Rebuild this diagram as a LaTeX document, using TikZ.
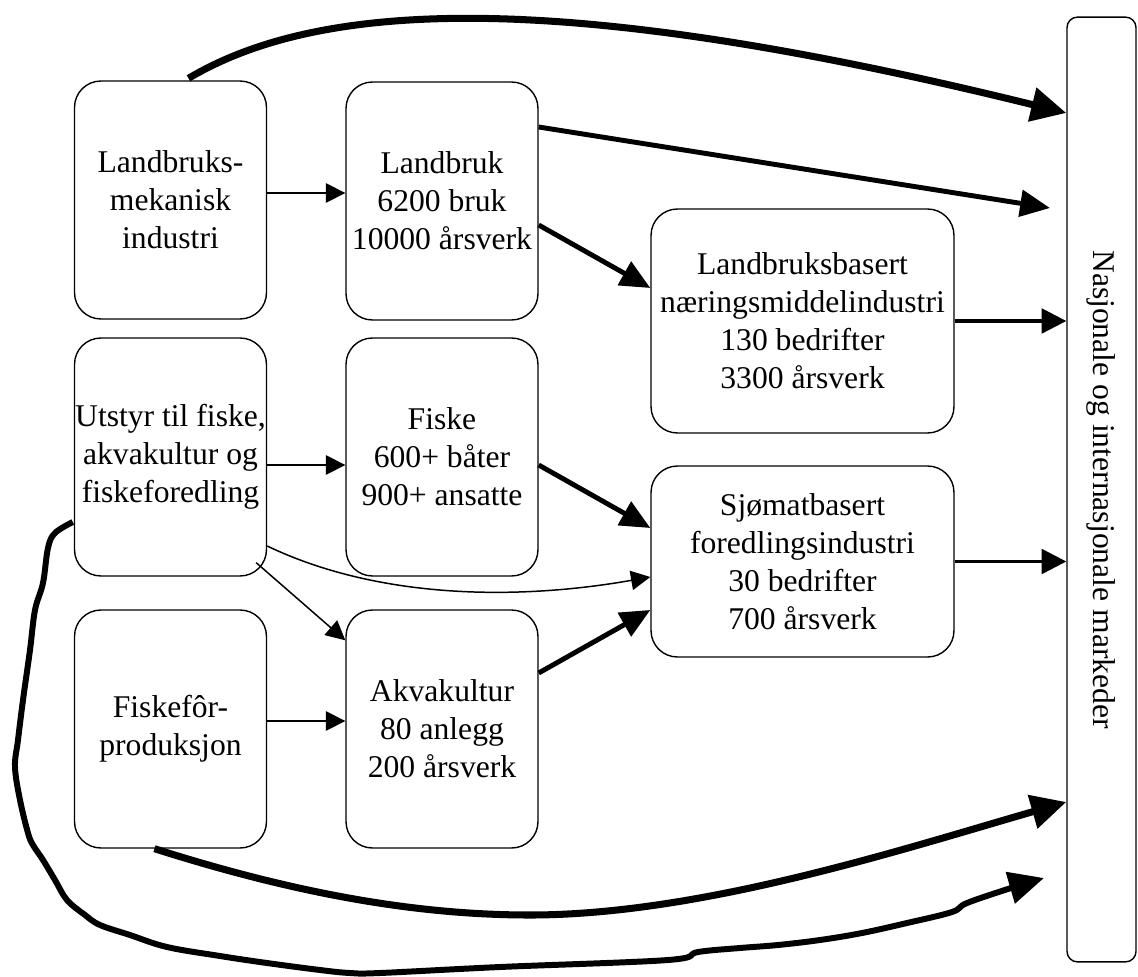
\documentclass[tikz,border=0pt]{standalone}
\usepackage{fontspec}
\setmainfont{Liberation Serif}
\usepackage{graphicx}
\usetikzlibrary{calc, arrows.meta}

\begin{document}
\begin{tikzpicture}[
  x=0.02cm, y=-0.02cm,
  box/.style={draw, line width=0.8pt, rounded corners=15pt,
              minimum width=3.84cm, minimum height=4.76cm, inner sep=0pt,
              align=center, font=\fontsize{18}{21.6}\selectfont},
  widebox/.style={box, minimum width=6.06cm},
  market/.style={box, rounded corners=6pt, minimum width=1.38cm,
                 minimum height=18.9cm},
  link/.style={line width=0.85pt, -{Triangle[length=11pt, width=11pt]}},
  export/.style={line width=1.8pt, -{Triangle[length=14pt, width=14pt]}},
  strong/.style={line width=2.8pt, -{Triangle[length=17pt, width=15pt]}},
  sweep/.style={line width=4pt, -{Triangle[length=20pt, width=19pt]}},
  scribble/.style={line width=3.4pt, line join=round,
                   -{Triangle[length=20pt, width=18pt]}},
]
\useasboundingbox (0,0) rectangle (1138,976);

\node[box] (mek) at (170.5,200) {Landbruks-\\mekanisk\\industri};
\node[box] (landbruk) at (442,201) {Landbruk\\6200 bruk\\10000 årsverk};
\node[box] (utstyr) at (170.5,457) {Utstyr til fiske,\\akvakultur og\\fiskeforedling};
\node[box] (fiske) at (442,457) {Fiske\\600+ båter\\900+ ansatte};
\node[box] (fiskefor) at (170.5,729) {Fiskefôr-\\produksjon};
\node[box] (akva) at (442,729) {Akvakultur\\80 anlegg\\200 årsverk};
\node[widebox, minimum height=4.48cm] (naering) at (802.5,321)
  {Landbruksbasert\\næringsmiddelindustri\\130 bedrifter\\3300 årsverk};
\node[widebox, minimum height=3.82cm] (sjomat) at (802.5,561.5)
  {Sjømatbasert\\foredlingsindustri\\30 bedrifter\\700 årsverk};
\node[market] (marked) at (1101.5,489.5)
  {\rotatebox{-90}{Nasjonale og internasjonale markeder}};

% inputs between the columns
\draw[link] ($(mek.east)+(0,-7)$) -- ($(landbruk.west)+(0,-8)$);
\draw[link] ($(utstyr.east)+(0,8)$) -- ($(fiske.west)+(0,8)$);
\draw[link] ($(fiskefor.east)+(0,-8)$) -- ($(akva.west)+(0,-8)$);
\draw[link] ($(utstyr.south east)+(-11,-14)$) -- ($(akva.north west)+(0,31)$);
\draw[link] ($(utstyr.east)+(0,89)$) .. controls (380,600) and (520,600)
  .. ($(sjomat.west)+(0,15.5)$);

\draw[strong] ($(landbruk.east)+(0,24)$) -- ($(naering.west)+(0,-33)$);
\draw[strong] ($(fiske.east)+(0,8)$) -- ($(sjomat.west)+(0,-33.5)$);
\draw[strong] ($(akva.east)+(0,-56)$) -- ($(sjomat.west)+(0,48.5)$);

% to the markets
\coordinate (landbrukend) at (1050,208);
\draw[strong] ($(landbruk.east)+(0,-74)$) -- (landbrukend);
\draw[export] (naering.east) -- (naering.east -| marked.west);
\draw[export] (sjomat.east) -- (sjomat.east -| marked.west);
\draw[sweep] ($(mek.north)+(18,-2)$) .. controls (320,0) and (560,-12)
  .. ($(marked.west)+(0,-376.5)$);
\draw[sweep] ($(fiskefor.south)+(-16,0)$) .. controls (300,895) and (420,915)
  .. (530,915) .. controls (700,915) and (900,850) .. ($(marked.west)+(0,312.5)$);

% hand drawn loop round the left side
\coordinate (loopstart) at ($(utstyr.west)+(-1,65)$);
\coordinate (loopend) at (1044,878);
\draw[scribble] plot[smooth, tension=0.6] coordinates {(loopstart) (55,533)
  (48,548) (43,583) (35,610) (30,650) (23,700) (18,740) (15,767) (20,800)
  (28,833) (33,845) (43,860) (55,880) (67,900) (85,915) (100,925) (130,935)
  (167,947) (220,956) (267,963) (320,970) (350,973) (380,973) (500,967)
  (668,960) (698,952) (740,948) (778,945) (820,940) (862,933) (907,923)
  (952,912) (967,903) (1011,888) (loopend)};
\end{tikzpicture}
\end{document}
